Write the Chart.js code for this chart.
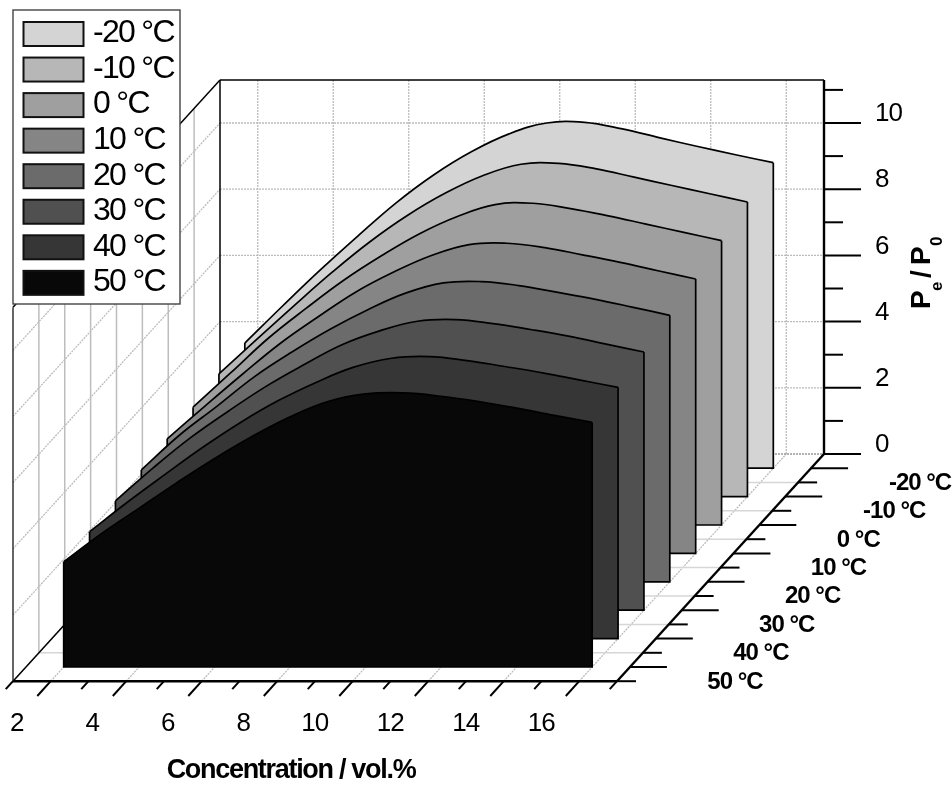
<!DOCTYPE html>
<html>
<head>
<meta charset="utf-8">
<style>
  html, body { margin: 0; padding: 0; background: #fff; }
  canvas { display: block; }
</style>
<script src="https://cdn.jsdelivr.net/npm/chart.js@4"></script>
</head>
<body>
<canvas id="chart" width="952" height="785"></canvas>
<script>
const concentrations = [2, 3, 4, 5, 6, 7, 8, 9, 10, 11, 12, 13, 14, 15, 16]
const temperatures = [-20, -10, 0, 10, 20, 30, 40, 50]

const seriesM20 = [3.78, 4.90, 5.99, 7.02, 8.01, 8.86, 9.56, 10.10, 10.43, 10.45, 10.25, 9.98, 9.72, 9.47, 9.23]
const seriesM10 = [3.71, 4.75, 5.78, 6.78, 7.70, 8.50, 9.17, 9.70, 10.04, 10.07, 9.90, 9.65, 9.40, 9.15, 8.90]
const series0 = [3.56, 4.60, 5.65, 6.55, 7.40, 8.14, 8.80, 9.32, 9.68, 9.72, 9.56, 9.34, 9.09, 8.84, 8.59]
const series10 = [3.46, 4.45, 5.42, 6.35, 7.15, 7.90, 8.50, 9.00, 9.33, 9.37, 9.24, 9.02, 8.79, 8.54, 8.29]
const series20 = [3.38, 4.42, 5.30, 6.20, 6.95, 7.63, 8.22, 8.72, 9.03, 9.07, 8.95, 8.75, 8.54, 8.30, 8.05]
const series30 = [3.30, 4.30, 5.22, 6.02, 6.77, 7.42, 8.02, 8.44, 8.73, 8.78, 8.66, 8.48, 8.28, 8.04, 7.80]
const series40 = [3.23, 4.12, 4.96, 5.78, 6.53, 7.19, 7.74, 8.20, 8.47, 8.52, 8.40, 8.22, 8.03, 7.81, 7.59]
const series50 = [3.18, 4.03, 4.80, 5.57, 6.30, 6.97, 7.56, 8.02, 8.25, 8.28, 8.18, 8.02, 7.82, 7.60, 7.39]
const allSeries = [seriesM20, seriesM10, series0, series10, series20, series30, series40, series50]

const seriesColors = ["#d4d4d4", "#b7b7b7", "#9f9f9f", "#858585", "#6b6b6b", "#505050", "#363636", "#080808"]
const legendLabels = ["-20 °C", "-10 °C", "0 °C", "10 °C", "20 °C", "30 °C", "40 °C", "50 °C"]

const xMajor = [2, 4, 6, 8, 10, 12, 14, 16]
const xMinor = [1, 3, 5, 7, 9, 11, 13, 15, 17]
const yMajor = [0, 2, 4, 6, 8, 10]
const yMinor = [1, 3, 5, 7, 9, 11]
const zMinor = [-15, -5, 5, 15, 25, 35, 45, 55]

// floor/wall box in data units
const cMin = 1, cMax = 17, tBack = -25, tFront = 55, vTop = 11.3

// oblique projection: how much one degree moves a point on the x and y scales
const kx = 2.5875 / 37.75
const ky = 2.84 / 33.1

function project(c, t, v) {
  return { x: c + (tFront - t) * kx, y: v - (t - tBack) * ky }
}

let datasets = []

function addLine(a, b, color, width, dash) {
  datasets.push({
    data: [a, b],
    borderColor: color,
    borderWidth: width,
    borderDash: dash || [],
    borderCapStyle: "butt",
    fill: false,
    tension: 0,
    pointRadius: 0,
    clip: false
  })
}

const dotted = [2, 1]
const gridDot = "#bcbcbc"

// back wall
yMajor.slice(1).forEach(v => addLine(project(cMin, tBack, v), project(cMax, tBack, v), gridDot, 1.3, dotted))
xMajor.forEach(c => addLine(project(c, tBack, 0), project(c, tBack, vTop), gridDot, 1.3, dotted))
// left wall
yMajor.forEach(v => addLine(project(cMin, tFront, v), project(cMin, tBack, v), gridDot, 1.3, dotted))
zMinor.slice(0, -1).forEach(t => addLine(project(cMin, t, 0), project(cMin, t, vTop), "#bdbdbd", 1.5))
// floor
xMajor.forEach(c => addLine(project(c, tFront, 0), project(c, tBack, 0), gridDot, 1.3, dotted))
zMinor.slice(0, -1).forEach(t => addLine(project(cMin, t, 0), project(cMax, t, 0), "#d6d6d6", 1.5))
addLine(project(cMin, tBack, 0), project(cMax, tBack, 0), "#999", 1.5, dotted)

// box edges
addLine(project(cMin, tBack, 0), project(cMin, tBack, vTop), "#000", 1.5)
addLine(project(cMin, tBack, vTop), project(cMax, tBack, vTop), "#000", 1.5)
addLine(project(cMin, tFront, vTop), project(cMin, tBack, vTop), "#000", 1.5)
addLine(project(cMin, tFront, 0), project(cMin, tFront, vTop), "#333", 1.5)
addLine(project(cMin, tFront, 0), project(cMin, tBack, 0), "#000", 1.5)

// the curtains, back to front
allSeries.forEach((values, i) => {
  const t = temperatures[i]
  const base = project(0, t, 0).y
  const first = concentrations[0]
  const last = concentrations[concentrations.length - 1]
  datasets.push({
    data: values.map((v, j) => project(concentrations[j], t, v)),
    borderColor: "#000",
    borderWidth: 1.7,
    backgroundColor: seriesColors[i],
    fill: { value: base },
    tension: 0.4,
    pointRadius: 0,
    clip: false
  })
  datasets.push({
    data: [
      project(first, t, values[0]),
      project(first, t, 0),
      project(last, t, 0),
      project(last, t, values[values.length - 1])
    ],
    borderColor: "#000",
    borderWidth: 1.7,
    fill: false,
    tension: 0,
    pointRadius: 0,
    clip: false
  })
})

// axes
addLine(project(cMax, tBack, 0), project(cMax, tBack, vTop), "#000", 2.4)
addLine(project(cMin, tFront, 0), project(cMax, tFront, 0), "#000", 2.4)
addLine(project(cMax, tFront, 0), project(cMax, tBack, 0), "#000", 2.4)

// tick lengths, in the axis units of each scale
const yMajorLen = 37 / 37.75, yMinorLen = 19 / 37.75
const xMajorDepth = 5.2, xMinorDepth = 2.8

yMajor.forEach(v => {
  const p = project(cMax, tBack, v)
  addLine(p, { x: p.x + yMajorLen, y: p.y }, "#000", 2)
})
yMinor.forEach(v => {
  const p = project(cMax, tBack, v)
  addLine(p, { x: p.x + yMinorLen, y: p.y }, "#000", 2)
})
temperatures.forEach(t => {
  const p = project(cMax, t, 0)
  addLine(p, { x: p.x + yMajorLen, y: p.y }, "#000", 2)
})
zMinor.forEach(t => {
  const p = project(cMax, t, 0)
  addLine(p, { x: p.x + yMinorLen, y: p.y }, "#000", 2)
})
xMajor.forEach(c => addLine(project(c, tFront, 0), project(c, tFront + xMajorDepth, 0), "#000", 2))
xMinor.forEach(c => addLine(project(c, tFront, 0), project(c, tFront + xMinorDepth, 0), "#000", 2))

datasets.forEach((d, i) => { d.order = datasets.length - i })

function text(ctx, str, x, y, font, align, spacing) {
  ctx.font = font
  ctx.textAlign = align || "left"
  ctx.textBaseline = "middle"
  ctx.letterSpacing = spacing || "0px"
  ctx.fillStyle = "#000"
  ctx.fillText(str, x, y)
}

const labelsPlugin = {
  id: "labels",
  afterDraw(chart) {
    const ctx = chart.ctx
    const sx = chart.scales.x
    const sy = chart.scales.y
    const px = p => ({ x: sx.getPixelForValue(p.x), y: sy.getPixelForValue(p.y) })
    const regular = "Liberation Sans, Arial, sans-serif"
    ctx.save()

    yMajor.forEach(v => {
      const p = px(project(cMax, tBack, v))
      text(ctx, String(v), p.x + 51, p.y - 9, "26px " + regular, "left", "-1px")
    })
    xMajor.forEach(c => {
      const p = px(project(c, tFront, 0))
      text(ctx, String(c), p.x - (c < 10 ? 34 : 38), 724, "26px " + regular, "center", "-1px")
    })
    temperatures.forEach((t, i) => {
      const p = px(project(cMax, t, 0))
      const nudge = t < 0 ? 4 : (t === 0 ? -6 : 0)
      text(ctx, legendLabels[i], p.x + 105 + nudge, p.y + 15, "bold 24px " + regular, "center", "-1px")
    })

    text(ctx, "Concentration / vol.%", 291, 771, "bold 27px " + regular, "center", "-1.3px")

    // rotated y title
    ctx.save()
    ctx.translate(930, 309)
    ctx.rotate(-Math.PI / 2)
    ctx.font = "bold 28px " + regular
    ctx.textAlign = "left"
    ctx.textBaseline = "alphabetic"
    ctx.letterSpacing = "0px"
    ctx.fillStyle = "#000"
    ctx.fillText("P", 0, 0)
    ctx.font = "bold 17px " + regular
    ctx.fillText("e", 18, 12)
    ctx.font = "bold 28px " + regular
    ctx.fillText("/", 31, 0)
    ctx.fillText("P", 44, 0)
    ctx.font = "bold 17px " + regular
    ctx.fillText("0", 63, 12)
    ctx.restore()

    // legend box
    ctx.fillStyle = "#fff"
    ctx.strokeStyle = "#444"
    ctx.lineWidth = 1.4
    ctx.fillRect(13, 10, 167, 294)
    ctx.strokeRect(13, 10, 167, 294)
    legendLabels.forEach((label, i) => {
      const top = 22 + i * 35.55
      ctx.fillStyle = seriesColors[i]
      ctx.strokeStyle = "#111"
      ctx.lineWidth = 2
      ctx.fillRect(23.5, top, 60, 24)
      ctx.strokeRect(23.5, top, 60, 24)
      text(ctx, label, 93, top + 11.5, "32px " + regular, "left", "-1.7px")
    })
    ctx.restore()
  }
}

new Chart(document.getElementById("chart"), {
  type: "line",
  data: { datasets: datasets },
  options: {
    responsive: false,
    animation: false,
    parsing: false,
    normalized: false,
    layout: { padding: 0 },
    plugins: { legend: { display: false }, tooltip: { enabled: false }, title: { display: false } },
    scales: {
      x: { type: "linear", display: false, min: 1 - 13 / 37.75, max: 1 + 939 / 37.75 },
      y: { type: "linear", display: false, min: -331 / 33.1, max: 454 / 33.1 }
    }
  },
  plugins: [labelsPlugin]
})
</script>
</body>
</html>
